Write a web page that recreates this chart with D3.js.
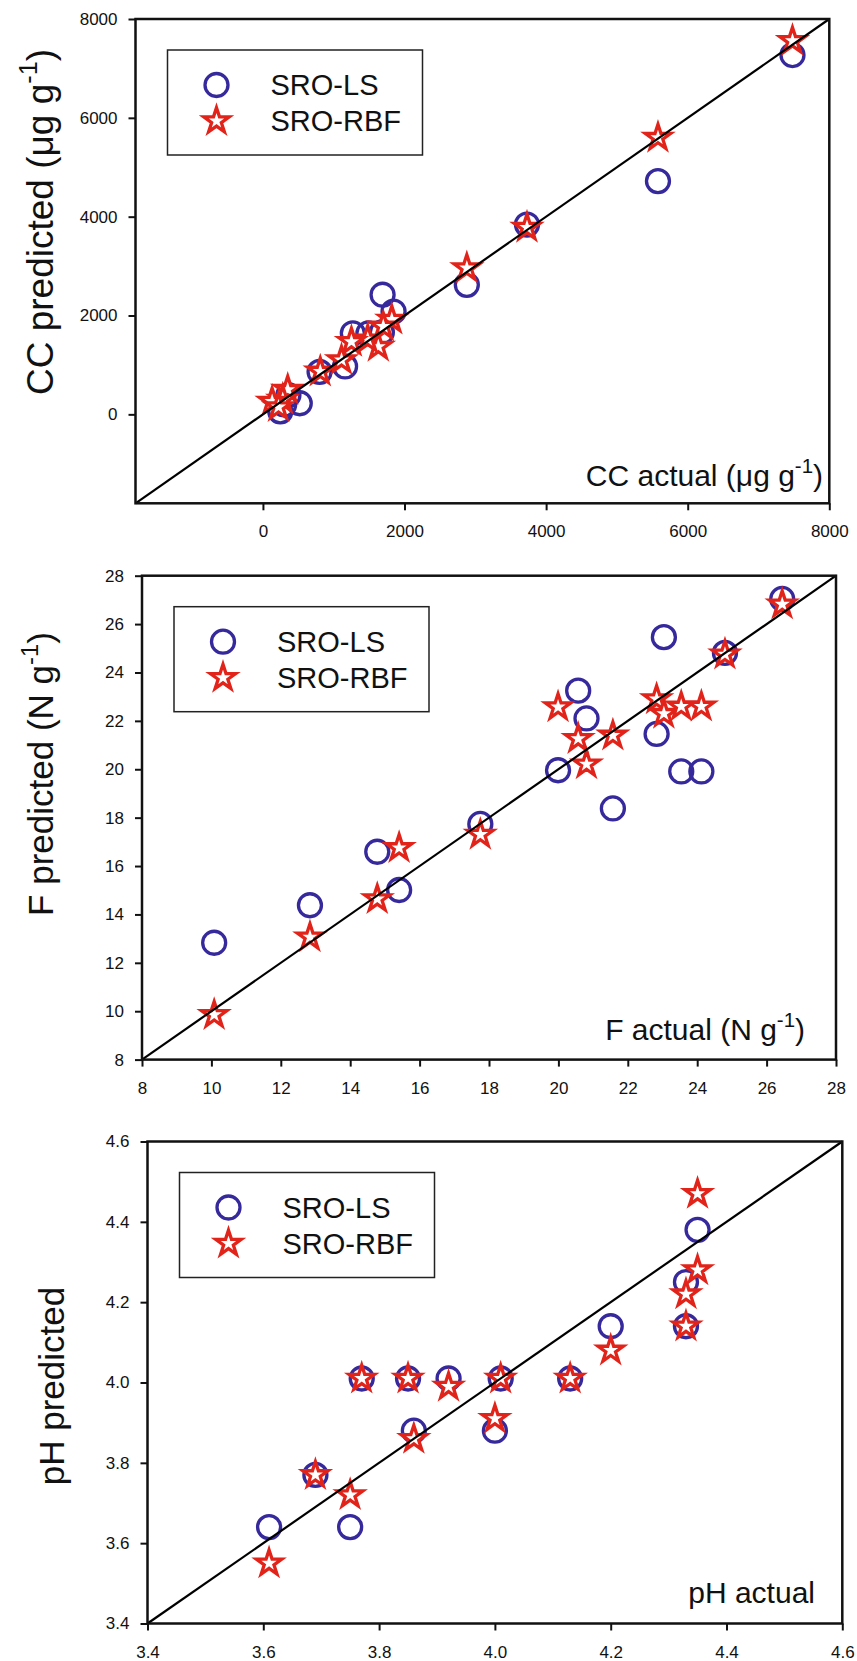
<!DOCTYPE html>
<html>
<head>
<meta charset="utf-8">
<script src="https://cdn.jsdelivr.net/npm/d3@7"></script>
<style>
  body { margin: 0; background: #fff; }
  text { font-family: "Liberation Sans", Arial, sans-serif; fill: #111; }
</style>
</head>
<body>
<script>
const seriesNames = ["SRO-LS", "SRO-RBF"];

// CC panel
const ccTicks = [0, 2000, 4000, 6000, 8000];
const ccLsActual = [7480, 5580, 3730, 2880, 1690, 1845, 1270, 1490, 1680, 1160, 800, 520, 245, 360, 300];
const ccLsPred   = [7270, 4720, 3840, 2620, 2420, 2080, 1640, 1640, 1660, 970, 860, 225, 60, 390, 200];
const ccRbfActual = [7480, 5580, 3730, 2880, 1820, 1700, 1630, 1480, 1250, 1110, 810, 350, 280, 130, 220];
const ccRbfPred   = [7560, 5600, 3780, 2960, 1920, 1780, 1370, 1520, 1470, 1100, 870, 500, 300, 260, 150];

// F panel
const fTicks = [8, 10, 12, 14, 16, 18, 20, 22, 24, 26, 28];
const fActual = [10.08, 12.84, 14.78, 15.41, 17.75, 19.99, 20.57, 20.81, 21.57, 22.83, 23.04, 23.54, 24.12, 24.8, 26.45];
const fLsPred  = [12.83, 14.38, 16.59, 15.01, 17.74, 19.96, 23.25, 22.1, 18.38, 21.46, 25.46, 19.91, 19.91, 24.81, 27.04];
const fRbfPred = [9.85, 13.06, 14.64, 16.75, 17.3, 22.57, 21.26, 20.21, 21.4, 22.9, 22.3, 22.6, 22.6, 24.75, 26.82];

// pH panel
const phTicks = [3.4, 3.6, 3.8, 4.0, 4.2, 4.4, 4.6];
const phLsActual = [3.61, 3.69, 3.75, 3.77, 3.85, 3.86, 3.92, 4.00, 4.01, 4.13, 4.20, 4.33, 4.33, 4.35];
const phLsPred   = [3.64, 3.77, 3.64, 4.01, 4.01, 3.88, 4.01, 3.88, 4.01, 4.01, 4.14, 4.14, 4.25, 4.38];
const phRbfActual = [3.61, 3.69, 3.75, 3.77, 3.85, 3.86, 3.92, 4.00, 4.01, 4.13, 4.20, 4.33, 4.33, 4.35, 4.35];
const phRbfPred   = [3.55, 3.77, 3.72, 4.01, 4.01, 3.86, 3.99, 3.91, 4.01, 4.01, 4.08, 4.14, 4.22, 4.28, 4.47];

const blue = "#35299c", red = "#e2231a";

const panels = [
  {domain: [-1800, 8000], ticks: ccTicks, fmt: d3.format("d"),
   lsX: ccLsActual, lsY: ccLsPred, rbfX: ccRbfActual, rbfY: ccRbfPred,
   yTitle: ["CC predicted (\u03bcg g", "-1", ")"], xTitle: ["CC actual (\u03bcg g", "-1", ")"],
   left: 135.5, right: 829.3, top: 19, bottom: 503.3,
   yTitleAt: [53, 222], yTitleSize: 37, xTitleAt: [823, 486]},
  {domain: [8, 28], ticks: fTicks, fmt: d3.format("d"),
   lsX: fActual, lsY: fLsPred, rbfX: fActual, rbfY: fRbfPred,
   yTitle: ["F predicted (N g", "-1", ")"], xTitle: ["F actual (N g", "-1", ")"],
   left: 142, right: 836, top: 575.7, bottom: 1059.6,
   yTitleAt: [53, 774], yTitleSize: 35, xTitleAt: [805, 1040]},
  {domain: [3.4, 4.6], ticks: phTicks, fmt: d3.format(".1f"),
   lsX: phLsActual, lsY: phLsPred, rbfX: phRbfActual, rbfY: phRbfPred,
   yTitle: ["pH predicted"], xTitle: ["pH actual"],
   left: 147.5, right: 842.3, top: 1141.5, bottom: 1623.5,
   yTitleAt: [64, 1386], yTitleSize: 35, xTitleAt: [815, 1603]}
];

let svg = d3.select("body")
            .append("svg")
            .attr("width", 857)
            .attr("height", 1661);

const star = d3.symbol().type(d3.symbolStar).size(200);

// text with an optional superscript piece
function richText(sel, parts, size) {
    sel.attr("font-size", size);
    sel.append("tspan").text(parts[0]);
    if (parts.length > 1) {
        sel.append("tspan")
            .attr("font-size", size * 0.68)
            .attr("dy", -size * 0.42)
            .text(parts[1]);
        sel.append("tspan")
            .attr("dy", size * 0.42)
            .text(parts[2]);
    }
}

panels.forEach(p => {
    let xScale = d3.scaleLinear().domain(p.domain).range([p.left, p.right]);
    let yScale = d3.scaleLinear().domain(p.domain).range([p.bottom, p.top]);

    let g = svg.append("g");

    const xAxis = d3.axisBottom(xScale).tickValues(p.ticks).tickFormat(p.fmt)
                    .tickSize(7).tickPadding(15);
    const yAxis = d3.axisLeft(yScale).tickValues(p.ticks).tickFormat(p.fmt)
                    .tickSize(7).tickPadding(11);

    [g.append("g").attr("transform", `translate(0,${p.bottom})`).call(xAxis),
     g.append("g").attr("transform", `translate(${p.left},0)`).call(yAxis)]
        .forEach(a => {
            a.select(".domain").remove();
            a.attr("font-size", 17);
            a.selectAll("line").attr("stroke", "#111").attr("stroke-width", 2);
        });

    // markers
    let lsPts = p.lsX.map((x, i) => [x, p.lsY[i]]);
    let rbfPts = p.rbfX.map((x, i) => [x, p.rbfY[i]]);

    g.selectAll(".ls")
        .data(lsPts)
        .enter()
        .append("circle")
            .attr("cx", d => xScale(d[0]))
            .attr("cy", d => yScale(d[1]))
            .attr("r", 11.5)
            .attr("fill", "none")
            .attr("stroke", blue)
            .attr("stroke-width", 3.3);

    g.selectAll(".rbf")
        .data(rbfPts)
        .enter()
        .append("path")
            .attr("d", star)
            .attr("transform", d => `translate(${xScale(d[0])},${yScale(d[1])})`)
            .attr("fill", "#fff")
            .attr("stroke", red)
            .attr("stroke-width", 3.3)
            .attr("stroke-linejoin", "miter");

    // 1:1 line
    g.append("line")
        .attr("x1", xScale(p.domain[0])).attr("y1", yScale(p.domain[0]))
        .attr("x2", xScale(p.domain[1])).attr("y2", yScale(p.domain[1]))
        .attr("stroke", "#000")
        .attr("stroke-width", 2.2);

    g.append("rect")
        .attr("x", p.left).attr("y", p.top)
        .attr("width", p.right - p.left).attr("height", p.bottom - p.top)
        .attr("fill", "none")
        .attr("stroke", "#111")
        .attr("stroke-width", 2.5);

    // legend
    let lg = g.append("g").attr("transform", `translate(${p.left + 32},${p.top + 31})`);
    lg.append("rect")
        .attr("width", 255).attr("height", 105)
        .attr("fill", "#fff")
        .attr("stroke", "#222")
        .attr("stroke-width", 1.5);
    lg.append("circle")
        .attr("cx", 49).attr("cy", 35).attr("r", 11.5)
        .attr("fill", "none").attr("stroke", blue).attr("stroke-width", 3.3);
    lg.append("path")
        .attr("d", star)
        .attr("transform", "translate(49,71)")
        .attr("fill", "#fff").attr("stroke", red).attr("stroke-width", 3.3);
    lg.selectAll(".lab")
        .data(seriesNames)
        .enter()
        .append("text")
            .attr("x", 103)
            .attr("y", (d, i) => 45 + i * 36)
            .attr("font-size", 29)
            .text(d => d);

    // axis titles
    g.append("text")
        .attr("transform", `translate(${p.yTitleAt[0]},${p.yTitleAt[1]}) rotate(-90)`)
        .attr("text-anchor", "middle")
        .call(richText, p.yTitle, p.yTitleSize);

    g.append("text")
        .attr("x", p.xTitleAt[0])
        .attr("y", p.xTitleAt[1])
        .attr("text-anchor", "end")
        .call(richText, p.xTitle, 30);
});
</script>
</body>
</html>
